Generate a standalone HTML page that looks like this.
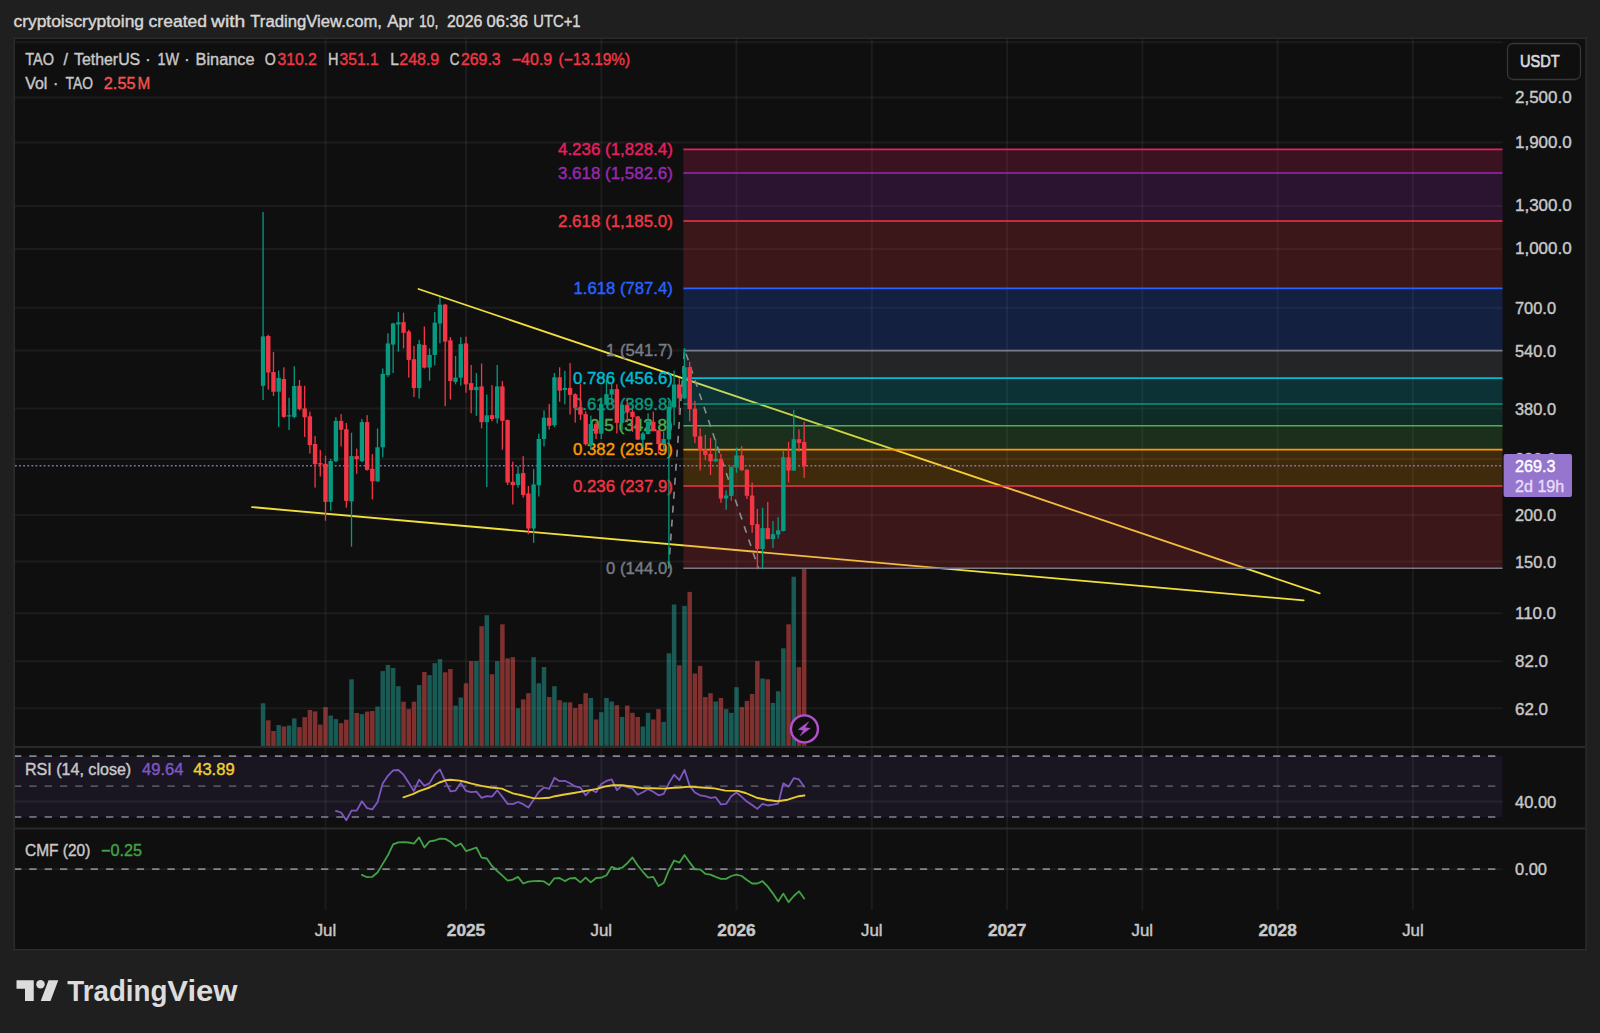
<!DOCTYPE html>
<html lang="en"><head><meta charset="utf-8"><title>TAO / TetherUS chart</title>
<style>html,body{margin:0;padding:0;background:#1f1f1f;overflow:hidden}body{width:1600px;height:1033px;position:relative}svg text{white-space:pre}</style></head>
<body>
<svg width="1600" height="1033" viewBox="0 0 1600 1033" font-family='"Liberation Sans", sans-serif' style="position:absolute;left:0;top:0;display:block">
<rect width="1600" height="1033" fill="#1f1f1f"/>
<rect x="13.5" y="37.5" width="1573.3" height="913" fill="#2b2b2b"/>
<rect x="15" y="39" width="1570.3" height="910" fill="#0f0f0f"/>
<text y="27.1" font-size="16" font-weight="normal" stroke-width="0.4"><tspan x="13.5" textLength="130.5" lengthAdjust="spacingAndGlyphs" fill="#d6d6d6" stroke="#d6d6d6">cryptoiscryptoing</tspan> <tspan x="148.6" textLength="58.4" lengthAdjust="spacingAndGlyphs" fill="#d6d6d6" stroke="#d6d6d6">created</tspan> <tspan x="211.0" textLength="34.3" lengthAdjust="spacingAndGlyphs" fill="#d6d6d6" stroke="#d6d6d6">with</tspan> <tspan x="250.3" textLength="131.7" lengthAdjust="spacingAndGlyphs" fill="#d6d6d6" stroke="#d6d6d6">TradingView.com,</tspan> <tspan x="387.2" textLength="26.4" lengthAdjust="spacingAndGlyphs" fill="#d6d6d6" stroke="#d6d6d6">Apr</tspan> <tspan x="419.0" textLength="19.5" lengthAdjust="spacingAndGlyphs" fill="#d6d6d6" stroke="#d6d6d6">10,</tspan> <tspan x="447.0" textLength="35.3" lengthAdjust="spacingAndGlyphs" fill="#d6d6d6" stroke="#d6d6d6">2026</tspan> <tspan x="486.5" textLength="41.5" lengthAdjust="spacingAndGlyphs" fill="#d6d6d6" stroke="#d6d6d6">06:36</tspan> <tspan x="533.3" textLength="47.3" lengthAdjust="spacingAndGlyphs" fill="#d6d6d6" stroke="#d6d6d6">UTC+1</tspan></text>
<rect x="15" y="756.3" width="1487.5" height="60.7" fill="#7e57c2" fill-opacity="0.1"/>
<g stroke="rgba(255,255,255,0.055)" stroke-width="2">
<line x1="325.5" y1="39" x2="325.5" y2="910"/>
<line x1="466.0" y1="39" x2="466.0" y2="910"/>
<line x1="601.3" y1="39" x2="601.3" y2="910"/>
<line x1="736.5" y1="39" x2="736.5" y2="910"/>
<line x1="871.8" y1="39" x2="871.8" y2="910"/>
<line x1="1007.1" y1="39" x2="1007.1" y2="910"/>
<line x1="1142.4" y1="39" x2="1142.4" y2="910"/>
<line x1="1277.6" y1="39" x2="1277.6" y2="910"/>
<line x1="1412.9" y1="39" x2="1412.9" y2="910"/>
<line x1="15" y1="42.2" x2="1502.5" y2="42.2"/>
<line x1="15" y1="97.4" x2="1502.5" y2="97.4"/>
<line x1="15" y1="142.6" x2="1502.5" y2="142.6"/>
<line x1="15" y1="206.0" x2="1502.5" y2="206.0"/>
<line x1="15" y1="249.0" x2="1502.5" y2="249.0"/>
<line x1="15" y1="307.7" x2="1502.5" y2="307.7"/>
<line x1="15" y1="350.6" x2="1502.5" y2="350.6"/>
<line x1="15" y1="408.6" x2="1502.5" y2="408.6"/>
<line x1="15" y1="458.9" x2="1502.5" y2="458.9"/>
<line x1="15" y1="515.1" x2="1502.5" y2="515.1"/>
<line x1="15" y1="561.5" x2="1502.5" y2="561.5"/>
<line x1="15" y1="613.2" x2="1502.5" y2="613.2"/>
<line x1="15" y1="661.2" x2="1502.5" y2="661.2"/>
<line x1="15" y1="708.2" x2="1502.5" y2="708.2"/>
<line x1="15" y1="801.6" x2="1502.5" y2="801.6"/>
<line x1="15" y1="869.2" x2="1502.5" y2="869.2"/>
</g>
<g stroke="#2a2a2a" stroke-width="2">
<line x1="15" y1="747" x2="1585.3" y2="747"/>
<line x1="15" y1="828.5" x2="1585.3" y2="828.5"/>
</g>
<g>
<rect x="260.81" y="703.3" width="4.5" height="42.6" fill="rgba(38,166,154,0.5)"/>
<rect x="266.01" y="720.3" width="4.5" height="25.6" fill="rgba(239,83,80,0.5)"/>
<rect x="271.22" y="731.0" width="4.5" height="14.9" fill="rgba(239,83,80,0.5)"/>
<rect x="276.42" y="725.0" width="4.5" height="20.9" fill="rgba(38,166,154,0.5)"/>
<rect x="281.62" y="726.5" width="4.5" height="19.4" fill="rgba(239,83,80,0.5)"/>
<rect x="286.82" y="725.5" width="4.5" height="20.3" fill="rgba(38,166,154,0.5)"/>
<rect x="292.03" y="718.4" width="4.5" height="27.5" fill="rgba(38,166,154,0.5)"/>
<rect x="297.23" y="727.1" width="4.5" height="18.8" fill="rgba(239,83,80,0.5)"/>
<rect x="302.43" y="717.2" width="4.5" height="28.7" fill="rgba(239,83,80,0.5)"/>
<rect x="307.64" y="710.0" width="4.5" height="35.8" fill="rgba(239,83,80,0.5)"/>
<rect x="312.84" y="711.4" width="4.5" height="34.5" fill="rgba(239,83,80,0.5)"/>
<rect x="318.04" y="724.6" width="4.5" height="21.3" fill="rgba(239,83,80,0.5)"/>
<rect x="323.25" y="707.1" width="4.5" height="38.7" fill="rgba(239,83,80,0.5)"/>
<rect x="328.45" y="715.5" width="4.5" height="30.4" fill="rgba(38,166,154,0.5)"/>
<rect x="333.65" y="719.1" width="4.5" height="26.7" fill="rgba(38,166,154,0.5)"/>
<rect x="338.86" y="723.2" width="4.5" height="22.7" fill="rgba(239,83,80,0.5)"/>
<rect x="344.06" y="719.7" width="4.5" height="26.1" fill="rgba(239,83,80,0.5)"/>
<rect x="349.26" y="679.3" width="4.5" height="66.6" fill="rgba(38,166,154,0.5)"/>
<rect x="354.46" y="713.0" width="4.5" height="32.9" fill="rgba(239,83,80,0.5)"/>
<rect x="359.67" y="714.1" width="4.5" height="31.8" fill="rgba(38,166,154,0.5)"/>
<rect x="364.87" y="711.6" width="4.5" height="34.3" fill="rgba(239,83,80,0.5)"/>
<rect x="370.07" y="711.0" width="4.5" height="34.8" fill="rgba(239,83,80,0.5)"/>
<rect x="375.28" y="706.6" width="4.5" height="39.3" fill="rgba(38,166,154,0.5)"/>
<rect x="380.48" y="671.1" width="4.5" height="74.7" fill="rgba(38,166,154,0.5)"/>
<rect x="385.68" y="664.9" width="4.5" height="80.9" fill="rgba(38,166,154,0.5)"/>
<rect x="390.88" y="668.0" width="4.5" height="77.8" fill="rgba(38,166,154,0.5)"/>
<rect x="396.09" y="686.2" width="4.5" height="59.6" fill="rgba(38,166,154,0.5)"/>
<rect x="401.29" y="701.7" width="4.5" height="44.1" fill="rgba(239,83,80,0.5)"/>
<rect x="406.49" y="709.1" width="4.5" height="36.8" fill="rgba(239,83,80,0.5)"/>
<rect x="411.70" y="701.7" width="4.5" height="44.1" fill="rgba(239,83,80,0.5)"/>
<rect x="416.90" y="685.1" width="4.5" height="60.8" fill="rgba(38,166,154,0.5)"/>
<rect x="422.10" y="671.9" width="4.5" height="74.0" fill="rgba(239,83,80,0.5)"/>
<rect x="427.31" y="675.2" width="4.5" height="70.7" fill="rgba(38,166,154,0.5)"/>
<rect x="432.51" y="663.2" width="4.5" height="82.7" fill="rgba(38,166,154,0.5)"/>
<rect x="437.71" y="659.1" width="4.5" height="86.7" fill="rgba(38,166,154,0.5)"/>
<rect x="442.92" y="672.3" width="4.5" height="73.6" fill="rgba(239,83,80,0.5)"/>
<rect x="448.12" y="669.0" width="4.5" height="76.9" fill="rgba(239,83,80,0.5)"/>
<rect x="453.32" y="705.6" width="4.5" height="40.3" fill="rgba(38,166,154,0.5)"/>
<rect x="458.52" y="697.5" width="4.5" height="48.4" fill="rgba(38,166,154,0.5)"/>
<rect x="463.73" y="683.3" width="4.5" height="62.5" fill="rgba(239,83,80,0.5)"/>
<rect x="468.93" y="661.1" width="4.5" height="84.8" fill="rgba(239,83,80,0.5)"/>
<rect x="474.13" y="661.1" width="4.5" height="84.8" fill="rgba(38,166,154,0.5)"/>
<rect x="479.34" y="626.2" width="4.5" height="119.7" fill="rgba(239,83,80,0.5)"/>
<rect x="484.54" y="615.2" width="4.5" height="130.7" fill="rgba(38,166,154,0.5)"/>
<rect x="489.74" y="674.2" width="4.5" height="71.6" fill="rgba(239,83,80,0.5)"/>
<rect x="494.95" y="661.1" width="4.5" height="84.8" fill="rgba(38,166,154,0.5)"/>
<rect x="500.15" y="624.3" width="4.5" height="121.6" fill="rgba(239,83,80,0.5)"/>
<rect x="505.35" y="658.4" width="4.5" height="87.5" fill="rgba(239,83,80,0.5)"/>
<rect x="510.55" y="657.2" width="4.5" height="88.7" fill="rgba(239,83,80,0.5)"/>
<rect x="515.76" y="708.3" width="4.5" height="37.6" fill="rgba(38,166,154,0.5)"/>
<rect x="520.96" y="699.4" width="4.5" height="46.5" fill="rgba(239,83,80,0.5)"/>
<rect x="526.16" y="693.2" width="4.5" height="52.7" fill="rgba(239,83,80,0.5)"/>
<rect x="531.37" y="657.2" width="4.5" height="88.7" fill="rgba(38,166,154,0.5)"/>
<rect x="536.57" y="683.3" width="4.5" height="62.5" fill="rgba(38,166,154,0.5)"/>
<rect x="541.77" y="667.1" width="4.5" height="78.8" fill="rgba(38,166,154,0.5)"/>
<rect x="546.98" y="697.1" width="4.5" height="48.8" fill="rgba(239,83,80,0.5)"/>
<rect x="552.18" y="686.2" width="4.5" height="59.6" fill="rgba(38,166,154,0.5)"/>
<rect x="557.38" y="700.2" width="4.5" height="45.7" fill="rgba(239,83,80,0.5)"/>
<rect x="562.58" y="702.3" width="4.5" height="43.6" fill="rgba(38,166,154,0.5)"/>
<rect x="567.79" y="702.3" width="4.5" height="43.6" fill="rgba(239,83,80,0.5)"/>
<rect x="572.99" y="708.1" width="4.5" height="37.8" fill="rgba(239,83,80,0.5)"/>
<rect x="578.19" y="704.0" width="4.5" height="41.8" fill="rgba(239,83,80,0.5)"/>
<rect x="583.40" y="693.2" width="4.5" height="52.7" fill="rgba(239,83,80,0.5)"/>
<rect x="588.60" y="698.0" width="4.5" height="47.8" fill="rgba(38,166,154,0.5)"/>
<rect x="593.80" y="719.5" width="4.5" height="26.3" fill="rgba(239,83,80,0.5)"/>
<rect x="599.00" y="712.2" width="4.5" height="33.7" fill="rgba(38,166,154,0.5)"/>
<rect x="604.21" y="698.0" width="4.5" height="47.8" fill="rgba(38,166,154,0.5)"/>
<rect x="609.41" y="701.5" width="4.5" height="44.3" fill="rgba(38,166,154,0.5)"/>
<rect x="614.61" y="705.2" width="4.5" height="40.7" fill="rgba(239,83,80,0.5)"/>
<rect x="619.82" y="717.0" width="4.5" height="28.8" fill="rgba(38,166,154,0.5)"/>
<rect x="625.02" y="705.6" width="4.5" height="40.3" fill="rgba(239,83,80,0.5)"/>
<rect x="630.22" y="712.8" width="4.5" height="33.1" fill="rgba(239,83,80,0.5)"/>
<rect x="635.43" y="717.0" width="4.5" height="28.8" fill="rgba(239,83,80,0.5)"/>
<rect x="640.63" y="726.5" width="4.5" height="19.4" fill="rgba(38,166,154,0.5)"/>
<rect x="645.83" y="712.8" width="4.5" height="33.1" fill="rgba(38,166,154,0.5)"/>
<rect x="651.04" y="719.5" width="4.5" height="26.3" fill="rgba(239,83,80,0.5)"/>
<rect x="656.24" y="709.1" width="4.5" height="36.8" fill="rgba(239,83,80,0.5)"/>
<rect x="661.44" y="721.9" width="4.5" height="24.0" fill="rgba(38,166,154,0.5)"/>
<rect x="666.64" y="653.3" width="4.5" height="92.5" fill="rgba(38,166,154,0.5)"/>
<rect x="671.85" y="604.5" width="4.5" height="141.3" fill="rgba(38,166,154,0.5)"/>
<rect x="677.05" y="665.3" width="4.5" height="80.5" fill="rgba(239,83,80,0.5)"/>
<rect x="682.25" y="605.9" width="4.5" height="140.0" fill="rgba(38,166,154,0.5)"/>
<rect x="687.46" y="591.9" width="4.5" height="153.9" fill="rgba(239,83,80,0.5)"/>
<rect x="692.66" y="673.5" width="4.5" height="72.4" fill="rgba(239,83,80,0.5)"/>
<rect x="697.86" y="665.9" width="4.5" height="80.0" fill="rgba(239,83,80,0.5)"/>
<rect x="703.07" y="697.1" width="4.5" height="48.8" fill="rgba(239,83,80,0.5)"/>
<rect x="708.27" y="693.2" width="4.5" height="52.7" fill="rgba(239,83,80,0.5)"/>
<rect x="713.47" y="701.5" width="4.5" height="44.3" fill="rgba(38,166,154,0.5)"/>
<rect x="718.67" y="698.0" width="4.5" height="47.8" fill="rgba(239,83,80,0.5)"/>
<rect x="723.88" y="709.1" width="4.5" height="36.8" fill="rgba(38,166,154,0.5)"/>
<rect x="729.08" y="712.8" width="4.5" height="33.1" fill="rgba(38,166,154,0.5)"/>
<rect x="734.28" y="687.2" width="4.5" height="58.7" fill="rgba(38,166,154,0.5)"/>
<rect x="739.49" y="707.1" width="4.5" height="38.7" fill="rgba(239,83,80,0.5)"/>
<rect x="744.69" y="700.9" width="4.5" height="44.9" fill="rgba(239,83,80,0.5)"/>
<rect x="749.89" y="694.0" width="4.5" height="51.9" fill="rgba(239,83,80,0.5)"/>
<rect x="755.10" y="661.1" width="4.5" height="84.8" fill="rgba(239,83,80,0.5)"/>
<rect x="760.30" y="678.5" width="4.5" height="67.4" fill="rgba(38,166,154,0.5)"/>
<rect x="765.50" y="679.3" width="4.5" height="66.6" fill="rgba(239,83,80,0.5)"/>
<rect x="770.70" y="702.9" width="4.5" height="43.0" fill="rgba(38,166,154,0.5)"/>
<rect x="775.91" y="691.3" width="4.5" height="54.6" fill="rgba(38,166,154,0.5)"/>
<rect x="781.11" y="648.3" width="4.5" height="97.6" fill="rgba(38,166,154,0.5)"/>
<rect x="786.31" y="624.3" width="4.5" height="121.6" fill="rgba(239,83,80,0.5)"/>
<rect x="791.52" y="576.7" width="4.5" height="169.2" fill="rgba(38,166,154,0.5)"/>
<rect x="796.72" y="667.1" width="4.5" height="78.8" fill="rgba(239,83,80,0.5)"/>
<rect x="801.92" y="568.7" width="4.5" height="177.2" fill="rgba(239,83,80,0.5)"/>
</g>
<g stroke="#f2df3c" stroke-width="1.8" stroke-linecap="round">
<line x1="418.5" y1="289" x2="1319.7" y2="593.4"/>
<line x1="252" y1="507.1" x2="1303.7" y2="600.4"/>
</g>
<rect x="683.4" y="486.0" width="819.1" height="82.2" fill="#f23645" fill-opacity="0.2"/>
<rect x="683.4" y="449.6" width="819.1" height="36.4" fill="#ff9800" fill-opacity="0.2"/>
<rect x="683.4" y="425.7" width="819.1" height="23.9" fill="#4caf50" fill-opacity="0.2"/>
<rect x="683.4" y="404.0" width="819.1" height="21.7" fill="#089981" fill-opacity="0.2"/>
<rect x="683.4" y="378.1" width="819.1" height="25.9" fill="#00bcd4" fill-opacity="0.2"/>
<rect x="683.4" y="350.6" width="819.1" height="27.5" fill="#787b86" fill-opacity="0.2"/>
<rect x="683.4" y="288.4" width="819.1" height="62.2" fill="#2962ff" fill-opacity="0.2"/>
<rect x="683.4" y="221.0" width="819.1" height="67.4" fill="#f23645" fill-opacity="0.2"/>
<rect x="683.4" y="173.0" width="819.1" height="48.0" fill="#9c27b0" fill-opacity="0.2"/>
<rect x="683.4" y="149.4" width="819.1" height="23.6" fill="#e91e63" fill-opacity="0.2"/>
<line x1="683.4" y1="568.2" x2="1502.5" y2="568.2" stroke="#787b86" stroke-width="1.6"/>
<line x1="683.4" y1="486.0" x2="1502.5" y2="486.0" stroke="#f23645" stroke-width="1.6"/>
<line x1="683.4" y1="449.6" x2="1502.5" y2="449.6" stroke="#ff9800" stroke-width="1.6"/>
<line x1="683.4" y1="425.7" x2="1502.5" y2="425.7" stroke="#4caf50" stroke-width="1.6"/>
<line x1="683.4" y1="404.0" x2="1502.5" y2="404.0" stroke="#089981" stroke-width="1.6"/>
<line x1="683.4" y1="378.1" x2="1502.5" y2="378.1" stroke="#00bcd4" stroke-width="1.6"/>
<line x1="683.4" y1="350.6" x2="1502.5" y2="350.6" stroke="#787b86" stroke-width="1.6"/>
<line x1="683.4" y1="288.4" x2="1502.5" y2="288.4" stroke="#2962ff" stroke-width="1.6"/>
<line x1="683.4" y1="221.0" x2="1502.5" y2="221.0" stroke="#f23645" stroke-width="1.6"/>
<line x1="683.4" y1="173.0" x2="1502.5" y2="173.0" stroke="#9c27b0" stroke-width="1.6"/>
<line x1="683.4" y1="149.4" x2="1502.5" y2="149.4" stroke="#e91e63" stroke-width="1.6"/>
<polyline points="668.6,568.5 684.6,349.5 758.5,568.5" fill="none" stroke="#8a8d96" stroke-width="1.6" stroke-dasharray="7 7"/>
<text x="606.0" y="573.9" fill="#787b86" stroke="#787b86" stroke-width="0.4" font-size="16" font-weight="normal" textLength="66.8" lengthAdjust="spacingAndGlyphs">0 (144.0)</text>
<text x="573.0" y="491.7" fill="#f23645" stroke="#f23645" stroke-width="0.4" font-size="16" font-weight="normal" textLength="99.8" lengthAdjust="spacingAndGlyphs">0.236 (237.9)</text>
<text x="573.0" y="455.3" fill="#ff9800" stroke="#ff9800" stroke-width="0.4" font-size="16" font-weight="normal" textLength="99.8" lengthAdjust="spacingAndGlyphs">0.382 (295.9)</text>
<text x="590.0" y="431.4" fill="#4caf50" stroke="#4caf50" stroke-width="0.4" font-size="16" font-weight="normal" textLength="82.8" lengthAdjust="spacingAndGlyphs">0.5 (342.8)</text>
<text x="573.0" y="409.7" fill="#089981" stroke="#089981" stroke-width="0.4" font-size="16" font-weight="normal" textLength="99.8" lengthAdjust="spacingAndGlyphs">0.618 (389.8)</text>
<text x="573.0" y="383.8" fill="#00bcd4" stroke="#00bcd4" stroke-width="0.4" font-size="16" font-weight="normal" textLength="99.8" lengthAdjust="spacingAndGlyphs">0.786 (456.6)</text>
<text x="606.0" y="356.3" fill="#787b86" stroke="#787b86" stroke-width="0.4" font-size="16" font-weight="normal" textLength="66.8" lengthAdjust="spacingAndGlyphs">1 (541.7)</text>
<text x="573.5" y="294.1" fill="#2962ff" stroke="#2962ff" stroke-width="0.4" font-size="16" font-weight="normal" textLength="99.3" lengthAdjust="spacingAndGlyphs">1.618 (787.4)</text>
<text x="558.0" y="226.7" fill="#f23645" stroke="#f23645" stroke-width="0.4" font-size="16" font-weight="normal" textLength="114.8" lengthAdjust="spacingAndGlyphs">2.618 (1,185.0)</text>
<text x="558.0" y="178.7" fill="#9c27b0" stroke="#9c27b0" stroke-width="0.4" font-size="16" font-weight="normal" textLength="114.8" lengthAdjust="spacingAndGlyphs">3.618 (1,582.6)</text>
<text x="558.0" y="155.1" fill="#e91e63" stroke="#e91e63" stroke-width="0.4" font-size="16" font-weight="normal" textLength="114.8" lengthAdjust="spacingAndGlyphs">4.236 (1,828.4)</text>
<line x1="15" y1="465.7" x2="1502.5" y2="465.7" stroke="#9575cd" stroke-opacity="0.9" stroke-width="1.6" stroke-dasharray="1.8 2.3"/>
<g>
<rect x="262.41" y="212.0" width="1.3" height="187.9" fill="#089981"/>
<rect x="260.86" y="336.4" width="4.4" height="49.4" fill="#089981"/>
<rect x="267.61" y="334.7" width="1.3" height="55.0" fill="#f23645"/>
<rect x="266.06" y="336.0" width="4.4" height="36.6" fill="#f23645"/>
<rect x="272.82" y="351.9" width="1.3" height="44.1" fill="#f23645"/>
<rect x="271.27" y="372.0" width="4.4" height="19.8" fill="#f23645"/>
<rect x="278.02" y="370.5" width="1.3" height="56.4" fill="#089981"/>
<rect x="276.47" y="377.9" width="4.4" height="13.8" fill="#089981"/>
<rect x="283.22" y="367.3" width="1.3" height="50.5" fill="#f23645"/>
<rect x="281.67" y="379.0" width="4.4" height="37.9" fill="#f23645"/>
<rect x="288.43" y="397.7" width="1.3" height="32.4" fill="#089981"/>
<rect x="286.88" y="415.2" width="4.4" height="1.3" fill="#089981"/>
<rect x="293.63" y="366.2" width="1.3" height="52.2" fill="#089981"/>
<rect x="292.08" y="386.0" width="4.4" height="30.9" fill="#089981"/>
<rect x="298.83" y="380.1" width="1.3" height="30.2" fill="#f23645"/>
<rect x="297.28" y="385.8" width="4.4" height="23.4" fill="#f23645"/>
<rect x="304.03" y="385.8" width="1.3" height="51.1" fill="#f23645"/>
<rect x="302.48" y="408.4" width="4.4" height="8.9" fill="#f23645"/>
<rect x="309.24" y="411.6" width="1.3" height="42.0" fill="#f23645"/>
<rect x="307.69" y="416.3" width="4.4" height="28.8" fill="#f23645"/>
<rect x="314.44" y="436.1" width="1.3" height="51.5" fill="#f23645"/>
<rect x="312.89" y="444.0" width="4.4" height="20.2" fill="#f23645"/>
<rect x="319.64" y="449.9" width="1.3" height="26.6" fill="#f23645"/>
<rect x="318.09" y="463.1" width="4.4" height="1.5" fill="#f23645"/>
<rect x="324.85" y="455.7" width="1.3" height="65.0" fill="#f23645"/>
<rect x="323.30" y="463.8" width="4.4" height="38.1" fill="#f23645"/>
<rect x="330.05" y="458.9" width="1.3" height="51.8" fill="#089981"/>
<rect x="328.50" y="461.0" width="4.4" height="40.9" fill="#089981"/>
<rect x="335.25" y="417.1" width="1.3" height="45.1" fill="#089981"/>
<rect x="333.70" y="420.9" width="4.4" height="40.3" fill="#089981"/>
<rect x="340.46" y="414.1" width="1.3" height="32.5" fill="#f23645"/>
<rect x="338.91" y="420.9" width="4.4" height="8.8" fill="#f23645"/>
<rect x="345.66" y="422.9" width="1.3" height="84.8" fill="#f23645"/>
<rect x="344.11" y="429.2" width="4.4" height="71.7" fill="#f23645"/>
<rect x="350.86" y="432.7" width="1.3" height="114.0" fill="#089981"/>
<rect x="349.31" y="456.1" width="4.4" height="45.3" fill="#089981"/>
<rect x="356.06" y="448.6" width="1.3" height="25.2" fill="#f23645"/>
<rect x="354.51" y="456.1" width="4.4" height="3.0" fill="#f23645"/>
<rect x="361.27" y="418.9" width="1.3" height="43.5" fill="#089981"/>
<rect x="359.72" y="422.1" width="4.4" height="39.0" fill="#089981"/>
<rect x="366.47" y="415.1" width="1.3" height="55.6" fill="#f23645"/>
<rect x="364.92" y="422.1" width="4.4" height="47.8" fill="#f23645"/>
<rect x="371.67" y="454.1" width="1.3" height="45.3" fill="#f23645"/>
<rect x="370.12" y="468.7" width="4.4" height="12.6" fill="#f23645"/>
<rect x="376.88" y="428.4" width="1.3" height="53.4" fill="#089981"/>
<rect x="375.33" y="447.3" width="4.4" height="34.0" fill="#089981"/>
<rect x="382.08" y="368.5" width="1.3" height="88.8" fill="#089981"/>
<rect x="380.53" y="373.8" width="4.4" height="73.5" fill="#089981"/>
<rect x="387.28" y="333.3" width="1.3" height="43.5" fill="#089981"/>
<rect x="385.73" y="343.4" width="4.4" height="31.7" fill="#089981"/>
<rect x="392.49" y="322.7" width="1.3" height="50.3" fill="#089981"/>
<rect x="390.94" y="323.5" width="4.4" height="21.1" fill="#089981"/>
<rect x="397.69" y="312.1" width="1.3" height="39.5" fill="#089981"/>
<rect x="396.14" y="322.2" width="4.4" height="2.3" fill="#089981"/>
<rect x="402.89" y="312.7" width="1.3" height="35.7" fill="#f23645"/>
<rect x="401.34" y="322.2" width="4.4" height="10.6" fill="#f23645"/>
<rect x="408.09" y="329.8" width="1.3" height="47.8" fill="#f23645"/>
<rect x="406.54" y="331.5" width="4.4" height="28.4" fill="#f23645"/>
<rect x="413.30" y="345.9" width="1.3" height="51.1" fill="#f23645"/>
<rect x="411.75" y="359.2" width="4.4" height="28.9" fill="#f23645"/>
<rect x="418.50" y="339.8" width="1.3" height="58.9" fill="#089981"/>
<rect x="416.95" y="344.1" width="4.4" height="44.0" fill="#089981"/>
<rect x="423.70" y="326.5" width="1.3" height="42.0" fill="#f23645"/>
<rect x="422.15" y="344.9" width="4.4" height="22.7" fill="#f23645"/>
<rect x="428.91" y="348.4" width="1.3" height="32.2" fill="#089981"/>
<rect x="427.36" y="354.9" width="4.4" height="12.6" fill="#089981"/>
<rect x="434.11" y="312.1" width="1.3" height="53.4" fill="#089981"/>
<rect x="432.56" y="322.7" width="4.4" height="32.2" fill="#089981"/>
<rect x="439.31" y="297.0" width="1.3" height="46.3" fill="#089981"/>
<rect x="437.76" y="304.6" width="4.4" height="18.9" fill="#089981"/>
<rect x="444.52" y="303.8" width="1.3" height="102.4" fill="#f23645"/>
<rect x="442.97" y="304.6" width="4.4" height="37.0" fill="#f23645"/>
<rect x="449.72" y="337.1" width="1.3" height="62.4" fill="#f23645"/>
<rect x="448.17" y="340.3" width="4.4" height="40.8" fill="#f23645"/>
<rect x="454.92" y="355.9" width="1.3" height="28.4" fill="#089981"/>
<rect x="453.37" y="377.6" width="4.4" height="4.3" fill="#089981"/>
<rect x="460.12" y="337.1" width="1.3" height="48.6" fill="#089981"/>
<rect x="458.57" y="344.1" width="4.4" height="33.5" fill="#089981"/>
<rect x="465.33" y="336.6" width="1.3" height="56.1" fill="#f23645"/>
<rect x="463.78" y="343.4" width="4.4" height="41.0" fill="#f23645"/>
<rect x="470.53" y="365.0" width="1.3" height="48.3" fill="#f23645"/>
<rect x="468.98" y="383.1" width="4.4" height="7.0" fill="#f23645"/>
<rect x="475.73" y="373.1" width="1.3" height="42.8" fill="#089981"/>
<rect x="474.18" y="386.9" width="4.4" height="3.3" fill="#089981"/>
<rect x="480.94" y="363.5" width="1.3" height="64.9" fill="#f23645"/>
<rect x="479.39" y="386.4" width="4.4" height="35.7" fill="#f23645"/>
<rect x="486.14" y="394.5" width="1.3" height="92.6" fill="#089981"/>
<rect x="484.59" y="415.3" width="4.4" height="6.8" fill="#089981"/>
<rect x="491.34" y="385.1" width="1.3" height="36.2" fill="#f23645"/>
<rect x="489.79" y="415.1" width="4.4" height="4.0" fill="#f23645"/>
<rect x="496.55" y="365.0" width="1.3" height="58.4" fill="#089981"/>
<rect x="495.00" y="386.4" width="4.4" height="32.0" fill="#089981"/>
<rect x="501.75" y="381.1" width="1.3" height="68.7" fill="#f23645"/>
<rect x="500.20" y="386.4" width="4.4" height="34.5" fill="#f23645"/>
<rect x="506.95" y="419.6" width="1.3" height="65.4" fill="#f23645"/>
<rect x="505.40" y="420.1" width="4.4" height="62.4" fill="#f23645"/>
<rect x="512.15" y="461.7" width="1.3" height="42.8" fill="#f23645"/>
<rect x="510.60" y="481.8" width="4.4" height="3.3" fill="#f23645"/>
<rect x="517.36" y="466.2" width="1.3" height="21.4" fill="#089981"/>
<rect x="515.81" y="473.7" width="4.4" height="11.3" fill="#089981"/>
<rect x="522.56" y="456.1" width="1.3" height="41.5" fill="#f23645"/>
<rect x="521.01" y="473.1" width="4.4" height="21.9" fill="#f23645"/>
<rect x="527.76" y="485.9" width="1.3" height="48.3" fill="#f23645"/>
<rect x="526.21" y="493.4" width="4.4" height="35.1" fill="#f23645"/>
<rect x="532.97" y="468.9" width="1.3" height="73.9" fill="#089981"/>
<rect x="531.42" y="484.4" width="4.4" height="44.1" fill="#089981"/>
<rect x="538.17" y="433.7" width="1.3" height="62.8" fill="#089981"/>
<rect x="536.62" y="439.0" width="4.4" height="46.2" fill="#089981"/>
<rect x="543.37" y="410.3" width="1.3" height="36.2" fill="#089981"/>
<rect x="541.82" y="417.7" width="4.4" height="21.3" fill="#089981"/>
<rect x="548.58" y="403.9" width="1.3" height="25.6" fill="#f23645"/>
<rect x="547.02" y="417.7" width="4.4" height="8.1" fill="#f23645"/>
<rect x="553.78" y="373.0" width="1.3" height="53.9" fill="#089981"/>
<rect x="552.23" y="377.3" width="4.4" height="47.9" fill="#089981"/>
<rect x="558.98" y="367.3" width="1.3" height="34.5" fill="#f23645"/>
<rect x="557.43" y="377.3" width="4.4" height="13.4" fill="#f23645"/>
<rect x="564.18" y="370.9" width="1.3" height="33.4" fill="#089981"/>
<rect x="562.63" y="387.9" width="4.4" height="2.1" fill="#089981"/>
<rect x="569.39" y="363.0" width="1.3" height="51.5" fill="#f23645"/>
<rect x="567.84" y="387.9" width="4.4" height="7.0" fill="#f23645"/>
<rect x="574.59" y="393.2" width="1.3" height="29.4" fill="#f23645"/>
<rect x="573.04" y="394.3" width="4.4" height="13.4" fill="#f23645"/>
<rect x="579.79" y="383.7" width="1.3" height="36.2" fill="#f23645"/>
<rect x="578.24" y="407.1" width="4.4" height="7.5" fill="#f23645"/>
<rect x="585.00" y="411.4" width="1.3" height="34.1" fill="#f23645"/>
<rect x="583.45" y="414.1" width="4.4" height="30.2" fill="#f23645"/>
<rect x="590.20" y="415.6" width="1.3" height="34.1" fill="#089981"/>
<rect x="588.65" y="424.1" width="4.4" height="21.3" fill="#089981"/>
<rect x="595.40" y="422.0" width="1.3" height="17.0" fill="#f23645"/>
<rect x="593.85" y="424.1" width="4.4" height="9.6" fill="#f23645"/>
<rect x="600.61" y="397.9" width="1.3" height="41.1" fill="#089981"/>
<rect x="599.05" y="403.9" width="4.4" height="29.8" fill="#089981"/>
<rect x="605.81" y="380.4" width="1.3" height="24.8" fill="#089981"/>
<rect x="604.26" y="394.1" width="4.4" height="10.6" fill="#089981"/>
<rect x="611.01" y="381.8" width="1.3" height="22.9" fill="#089981"/>
<rect x="609.46" y="389.3" width="4.4" height="5.3" fill="#089981"/>
<rect x="616.21" y="384.3" width="1.3" height="49.2" fill="#f23645"/>
<rect x="614.66" y="389.0" width="4.4" height="33.9" fill="#f23645"/>
<rect x="621.42" y="404.2" width="1.3" height="25.6" fill="#089981"/>
<rect x="619.87" y="404.7" width="4.4" height="18.1" fill="#089981"/>
<rect x="626.62" y="397.8" width="1.3" height="24.5" fill="#f23645"/>
<rect x="625.07" y="404.9" width="4.4" height="7.5" fill="#f23645"/>
<rect x="631.82" y="409.5" width="1.3" height="22.4" fill="#f23645"/>
<rect x="630.27" y="411.7" width="4.4" height="5.3" fill="#f23645"/>
<rect x="637.03" y="415.9" width="1.3" height="24.2" fill="#f23645"/>
<rect x="635.48" y="416.4" width="4.4" height="23.2" fill="#f23645"/>
<rect x="642.23" y="431.9" width="1.3" height="14.9" fill="#089981"/>
<rect x="640.68" y="433.5" width="4.4" height="6.2" fill="#089981"/>
<rect x="647.43" y="413.2" width="1.3" height="21.3" fill="#089981"/>
<rect x="645.88" y="421.8" width="4.4" height="12.2" fill="#089981"/>
<rect x="652.64" y="411.7" width="1.3" height="19.7" fill="#f23645"/>
<rect x="651.09" y="421.8" width="4.4" height="9.1" fill="#f23645"/>
<rect x="657.84" y="429.8" width="1.3" height="24.0" fill="#f23645"/>
<rect x="656.29" y="430.3" width="4.4" height="13.8" fill="#f23645"/>
<rect x="663.04" y="431.4" width="1.3" height="19.2" fill="#089981"/>
<rect x="661.49" y="439.0" width="4.4" height="5.1" fill="#089981"/>
<rect x="668.24" y="401.0" width="1.3" height="167.0" fill="#089981"/>
<rect x="666.69" y="406.9" width="4.4" height="32.5" fill="#089981"/>
<rect x="673.45" y="370.6" width="1.3" height="54.8" fill="#089981"/>
<rect x="671.90" y="384.5" width="4.4" height="22.9" fill="#089981"/>
<rect x="678.65" y="378.1" width="1.3" height="36.7" fill="#f23645"/>
<rect x="677.10" y="384.5" width="4.4" height="13.8" fill="#f23645"/>
<rect x="683.85" y="348.0" width="1.3" height="50.8" fill="#089981"/>
<rect x="682.30" y="367.2" width="4.4" height="31.2" fill="#089981"/>
<rect x="689.06" y="361.8" width="1.3" height="59.6" fill="#f23645"/>
<rect x="687.51" y="367.2" width="4.4" height="41.9" fill="#f23645"/>
<rect x="694.26" y="400.7" width="1.3" height="42.5" fill="#f23645"/>
<rect x="692.71" y="408.7" width="4.4" height="27.9" fill="#f23645"/>
<rect x="699.46" y="428.2" width="1.3" height="42.3" fill="#f23645"/>
<rect x="697.91" y="436.2" width="4.4" height="13.9" fill="#f23645"/>
<rect x="704.67" y="434.8" width="1.3" height="25.3" fill="#f23645"/>
<rect x="703.12" y="449.3" width="4.4" height="5.6" fill="#f23645"/>
<rect x="709.87" y="438.0" width="1.3" height="36.9" fill="#f23645"/>
<rect x="708.32" y="454.0" width="4.4" height="7.3" fill="#f23645"/>
<rect x="715.07" y="439.2" width="1.3" height="22.7" fill="#089981"/>
<rect x="713.52" y="458.9" width="4.4" height="2.4" fill="#089981"/>
<rect x="720.27" y="454.0" width="1.3" height="48.8" fill="#f23645"/>
<rect x="718.72" y="458.9" width="4.4" height="39.6" fill="#f23645"/>
<rect x="725.48" y="490.3" width="1.3" height="19.5" fill="#089981"/>
<rect x="723.93" y="495.5" width="4.4" height="3.0" fill="#089981"/>
<rect x="730.68" y="466.2" width="1.3" height="34.5" fill="#089981"/>
<rect x="729.13" y="467.1" width="4.4" height="28.8" fill="#089981"/>
<rect x="735.88" y="447.4" width="1.3" height="25.4" fill="#089981"/>
<rect x="734.33" y="455.4" width="4.4" height="12.2" fill="#089981"/>
<rect x="741.09" y="446.2" width="1.3" height="24.9" fill="#f23645"/>
<rect x="739.54" y="455.4" width="4.4" height="14.8" fill="#f23645"/>
<rect x="746.29" y="469.4" width="1.3" height="29.6" fill="#f23645"/>
<rect x="744.74" y="469.7" width="4.4" height="26.1" fill="#f23645"/>
<rect x="751.49" y="482.4" width="1.3" height="50.4" fill="#f23645"/>
<rect x="749.94" y="495.5" width="4.4" height="29.6" fill="#f23645"/>
<rect x="756.70" y="508.9" width="1.3" height="60.5" fill="#f23645"/>
<rect x="755.14" y="524.1" width="4.4" height="24.9" fill="#f23645"/>
<rect x="761.90" y="507.7" width="1.3" height="61.0" fill="#089981"/>
<rect x="760.35" y="528.1" width="4.4" height="20.9" fill="#089981"/>
<rect x="767.10" y="501.9" width="1.3" height="37.5" fill="#f23645"/>
<rect x="765.55" y="528.1" width="4.4" height="11.0" fill="#f23645"/>
<rect x="772.30" y="521.1" width="1.3" height="27.0" fill="#089981"/>
<rect x="770.75" y="534.2" width="4.4" height="4.9" fill="#089981"/>
<rect x="777.51" y="517.1" width="1.3" height="21.4" fill="#089981"/>
<rect x="775.96" y="530.3" width="4.4" height="4.2" fill="#089981"/>
<rect x="782.71" y="450.9" width="1.3" height="80.6" fill="#089981"/>
<rect x="781.16" y="457.3" width="4.4" height="73.7" fill="#089981"/>
<rect x="787.91" y="441.9" width="1.3" height="40.5" fill="#f23645"/>
<rect x="786.36" y="457.3" width="4.4" height="13.3" fill="#f23645"/>
<rect x="793.12" y="409.9" width="1.3" height="60.9" fill="#089981"/>
<rect x="791.57" y="439.2" width="4.4" height="31.4" fill="#089981"/>
<rect x="798.32" y="429.3" width="1.3" height="22.4" fill="#f23645"/>
<rect x="796.77" y="439.2" width="4.4" height="3.7" fill="#f23645"/>
<rect x="803.52" y="421.8" width="1.3" height="56.2" fill="#f23645"/>
<rect x="801.97" y="441.9" width="4.4" height="24.5" fill="#f23645"/>
</g>
<g stroke="#82848f" stroke-width="1.7" stroke-dasharray="7.35 8.005">
<line x1="13.9" y1="756.2" x2="1502.5" y2="756.2" stroke-opacity="1"/>
<line x1="13.9" y1="786.2" x2="1502.5" y2="786.2" stroke-opacity="0.55"/>
<line x1="13.9" y1="817" x2="1502.5" y2="817" stroke-opacity="1"/>
<line x1="13.9" y1="869.2" x2="1502.5" y2="869.2" stroke-opacity="1"/>
</g>
<rect x="13.5" y="740" width="1.5" height="140" fill="#2b2b2b"/>
<polyline points="335.9,810.9 341.1,812.5 346.3,820.3 351.5,810.6 356.7,810.6 361.9,801.2 367.1,808.1 372.3,809.4 377.5,802.3 382.7,783.6 387.9,775.8 393.1,770.3 398.3,770.0 403.5,774.7 408.7,782.8 413.9,790.9 419.1,779.7 424.4,785.9 429.6,783.1 434.8,774.2 440.0,769.5 445.2,781.2 450.4,791.4 455.6,790.6 460.8,782.8 466.0,790.9 471.2,792.2 476.4,791.6 481.6,797.8 486.8,796.2 492.0,796.6 497.2,790.3 502.4,796.9 507.6,803.9 512.8,804.1 518.0,802.0 523.2,804.2 528.4,807.5 533.6,799.7 538.8,791.9 544.0,787.5 549.2,788.8 554.4,777.8 559.6,781.2 564.8,780.8 570.0,783.3 575.2,786.4 580.4,787.5 585.6,795.3 590.8,789.8 596.1,792.2 601.3,784.1 606.5,780.9 611.7,779.4 616.9,790.0 622.1,785.6 627.3,787.2 632.5,788.6 637.7,794.7 642.9,792.2 648.1,789.1 653.3,791.7 658.5,795.3 663.7,793.8 668.9,783.1 674.1,774.7 679.3,780.2 684.5,769.8 689.7,785.9 694.9,792.5 700.1,795.3 705.3,796.2 710.5,797.8 715.7,797.2 720.9,804.4 726.1,803.9 731.3,796.2 736.5,792.5 741.7,796.9 746.9,801.6 752.1,805.0 757.3,808.9 762.5,803.9 767.8,805.5 773.0,804.7 778.2,803.6 783.4,783.3 788.6,786.7 793.8,778.1 799.0,779.4 804.2,786.7" fill="none" stroke="#7e57c2" stroke-width="1.8" stroke-linejoin="round" stroke-linecap="round"/>
<polyline points="403.4,797.3 412.8,794.2 419.1,791.2 429.5,787.5 439.4,782.5 445.6,780.3 450.3,779.7 459.7,780.6 465.9,782.0 470.6,783.4 481.6,785.9 490.9,787.5 501.9,788.6 512.8,793.4 523.8,795.8 533.1,798.1 539.4,798.4 548.8,797.8 555.0,796.2 564.4,794.5 573.8,793.0 580.0,791.9 595.6,789.1 606.6,786.2 612.8,785.3 622.2,785.2 633.1,786.7 642.5,788.0 653.4,788.3 664.4,788.6 673.8,787.8 680.0,787.5 689.4,786.6 701.9,787.5 714.4,788.4 725.3,790.6 737.8,790.9 745.6,793.0 756.6,797.7 767.5,800.0 777.7,801.2 787.8,799.7 798.8,796.2 804.5,795.5" fill="none" stroke="#e8cb30" stroke-width="1.9" stroke-linejoin="round" stroke-linecap="round"/>
<polyline points="361.9,874.9 367.1,877.2 372.3,876.8 377.5,872.5 382.7,863.9 387.9,855.3 393.1,844.4 398.3,842.4 403.5,842.1 408.7,842.5 413.9,843.6 419.1,837.4 424.4,847.5 429.6,841.3 434.8,840.5 440.0,838.6 445.2,838.9 450.4,841.8 455.6,846.3 460.8,843.6 466.0,851.1 471.2,849.4 476.4,847.5 481.6,857.7 486.8,858.5 492.0,866.0 497.2,871.0 502.4,875.7 507.6,880.7 512.8,879.6 518.0,876.9 523.2,883.5 528.4,881.6 533.6,881.1 538.8,880.8 544.0,881.4 549.2,885.0 554.4,878.3 559.6,878.0 564.8,881.1 570.0,878.3 575.2,878.0 580.4,882.4 585.6,877.7 590.8,882.4 596.1,878.0 601.3,877.7 606.5,875.2 611.7,866.8 616.9,868.9 622.1,867.7 627.3,863.2 632.5,857.4 637.7,865.5 642.9,871.8 648.1,877.7 653.3,876.9 658.5,886.1 663.7,883.0 668.9,870.2 674.1,860.5 679.3,862.7 684.5,854.9 689.7,862.4 694.9,869.4 700.1,869.4 705.3,873.8 710.5,874.6 715.7,876.9 720.9,878.9 726.1,878.9 731.3,876.0 736.5,874.6 741.7,876.0 746.9,880.0 752.1,883.5 757.3,883.5 762.5,881.1 767.8,886.6 773.0,893.6 778.2,901.4 783.4,893.6 788.6,902.2 793.8,896.0 799.0,891.3 804.2,898.6" fill="none" stroke="#43a047" stroke-width="1.8" stroke-linejoin="round" stroke-linecap="round"/>
<circle cx="804.45" cy="728.9" r="13.5" fill="#0f0f0f" stroke="#b44fce" stroke-width="2.4"/>
<path d="M808.8 721.6 L798.1 729.5 L803.4 730.3 L799.9 736.1 L810.4 728.3 L805.1 727.6 Z" fill="#b44fce" stroke="#b44fce" stroke-width="0.3" stroke-linejoin="round"/>
<text y="65.0" font-size="16" font-weight="normal" stroke-width="0.4"><tspan x="25.2" textLength="28.8" lengthAdjust="spacingAndGlyphs" fill="#c8c8c8" stroke="#c8c8c8">TAO</tspan> <tspan x="63.4" fill="#c8c8c8" stroke="#c8c8c8">/</tspan> <tspan x="74.0" textLength="66.2" lengthAdjust="spacingAndGlyphs" fill="#c8c8c8" stroke="#c8c8c8">TetherUS</tspan> <tspan x="145.3" fill="#c8c8c8" stroke="#c8c8c8">·</tspan> <tspan x="157.4" textLength="21.6" lengthAdjust="spacingAndGlyphs" fill="#c8c8c8" stroke="#c8c8c8">1W</tspan> <tspan x="184.3" fill="#c8c8c8" stroke="#c8c8c8">·</tspan> <tspan x="195.6" textLength="59.0" lengthAdjust="spacingAndGlyphs" fill="#c8c8c8" stroke="#c8c8c8">Binance</tspan> <tspan x="264.8" textLength="11.0" lengthAdjust="spacingAndGlyphs" fill="#c8c8c8" stroke="#c8c8c8">O</tspan> <tspan x="277.4" textLength="39.4" lengthAdjust="spacingAndGlyphs" fill="#f23645" stroke="#f23645">310.2</tspan> <tspan x="327.9" textLength="10.5" lengthAdjust="spacingAndGlyphs" fill="#c8c8c8" stroke="#c8c8c8">H</tspan> <tspan x="339.5" textLength="39.1" lengthAdjust="spacingAndGlyphs" fill="#f23645" stroke="#f23645">351.1</tspan> <tspan x="390.3" textLength="8.1" lengthAdjust="spacingAndGlyphs" fill="#c8c8c8" stroke="#c8c8c8">L</tspan> <tspan x="399.3" textLength="39.9" lengthAdjust="spacingAndGlyphs" fill="#f23645" stroke="#f23645">248.9</tspan> <tspan x="449.8" textLength="9.7" lengthAdjust="spacingAndGlyphs" fill="#c8c8c8" stroke="#c8c8c8">C</tspan> <tspan x="461.0" textLength="39.6" lengthAdjust="spacingAndGlyphs" fill="#f23645" stroke="#f23645">269.3</tspan> <tspan x="511.8" textLength="40.4" lengthAdjust="spacingAndGlyphs" fill="#f23645" stroke="#f23645">−40.9</tspan> <tspan x="558.6" textLength="71.6" lengthAdjust="spacingAndGlyphs" fill="#f23645" stroke="#f23645">(−13.19%)</tspan></text>
<text y="88.6" font-size="16" font-weight="normal" stroke-width="0.4"><tspan x="25.2" textLength="22.2" lengthAdjust="spacingAndGlyphs" fill="#c8c8c8" stroke="#c8c8c8">Vol</tspan> <tspan x="52.9" fill="#c8c8c8" stroke="#c8c8c8">·</tspan> <tspan x="65.6" textLength="27.4" lengthAdjust="spacingAndGlyphs" fill="#c8c8c8" stroke="#c8c8c8">TAO</tspan> <tspan x="103.8" textLength="31.7" lengthAdjust="spacingAndGlyphs" fill="#ef5350" stroke="#ef5350">2.55</tspan> <tspan x="137.5" textLength="12.7" lengthAdjust="spacingAndGlyphs" fill="#ef5350" stroke="#ef5350">M</tspan></text>
<text y="775.3" font-size="16" font-weight="normal" stroke-width="0.4"><tspan x="25.0" textLength="106.2" lengthAdjust="spacingAndGlyphs" fill="#c8c8c8" stroke="#c8c8c8">RSI (14, close)</tspan> <tspan x="142.0" textLength="41.4" lengthAdjust="spacingAndGlyphs" fill="#7e57c2" stroke="#7e57c2">49.64</tspan> <tspan x="193.2" textLength="41.4" lengthAdjust="spacingAndGlyphs" fill="#f0d02f" stroke="#f0d02f">43.89</tspan></text>
<text y="856.4" font-size="16" font-weight="normal" stroke-width="0.4"><tspan x="25.0" textLength="65.3" lengthAdjust="spacingAndGlyphs" fill="#c8c8c8" stroke="#c8c8c8">CMF (20)</tspan> <tspan x="101.0" textLength="41.0" lengthAdjust="spacingAndGlyphs" fill="#43a047" stroke="#43a047">−0.25</tspan></text>
<text x="1515.0" y="103.2" fill="#c8c8c8" stroke="#c8c8c8" stroke-width="0.4" font-size="16" font-weight="normal" textLength="56.6" lengthAdjust="spacingAndGlyphs">2,500.0</text>
<text x="1515.0" y="148.3" fill="#c8c8c8" stroke="#c8c8c8" stroke-width="0.4" font-size="16" font-weight="normal" textLength="56.6" lengthAdjust="spacingAndGlyphs">1,900.0</text>
<text x="1515.0" y="211.1" fill="#c8c8c8" stroke="#c8c8c8" stroke-width="0.4" font-size="16" font-weight="normal" textLength="56.6" lengthAdjust="spacingAndGlyphs">1,300.0</text>
<text x="1515.0" y="254.2" fill="#c8c8c8" stroke="#c8c8c8" stroke-width="0.4" font-size="16" font-weight="normal" textLength="56.6" lengthAdjust="spacingAndGlyphs">1,000.0</text>
<text x="1515.0" y="314.0" fill="#c8c8c8" stroke="#c8c8c8" stroke-width="0.4" font-size="16" font-weight="normal" textLength="41.0" lengthAdjust="spacingAndGlyphs">700.0</text>
<text x="1515.0" y="357.0" fill="#c8c8c8" stroke="#c8c8c8" stroke-width="0.4" font-size="16" font-weight="normal" textLength="41.0" lengthAdjust="spacingAndGlyphs">540.0</text>
<text x="1515.0" y="415.1" fill="#c8c8c8" stroke="#c8c8c8" stroke-width="0.4" font-size="16" font-weight="normal" textLength="41.0" lengthAdjust="spacingAndGlyphs">380.0</text>
<text x="1515.0" y="465.0" fill="#c8c8c8" stroke="#c8c8c8" stroke-width="0.4" font-size="16" font-weight="normal" textLength="41.0" lengthAdjust="spacingAndGlyphs">280.0</text>
<text x="1515.0" y="521.0" fill="#c8c8c8" stroke="#c8c8c8" stroke-width="0.4" font-size="16" font-weight="normal" textLength="41.0" lengthAdjust="spacingAndGlyphs">200.0</text>
<text x="1515.0" y="568.2" fill="#c8c8c8" stroke="#c8c8c8" stroke-width="0.4" font-size="16" font-weight="normal" textLength="41.0" lengthAdjust="spacingAndGlyphs">150.0</text>
<text x="1515.0" y="619.0" fill="#c8c8c8" stroke="#c8c8c8" stroke-width="0.4" font-size="16" font-weight="normal" textLength="41.0" lengthAdjust="spacingAndGlyphs">110.0</text>
<text x="1515.0" y="667.3" fill="#c8c8c8" stroke="#c8c8c8" stroke-width="0.4" font-size="16" font-weight="normal" textLength="33.0" lengthAdjust="spacingAndGlyphs">82.0</text>
<text x="1515.0" y="714.6" fill="#c8c8c8" stroke="#c8c8c8" stroke-width="0.4" font-size="16" font-weight="normal" textLength="33.0" lengthAdjust="spacingAndGlyphs">62.0</text>
<text x="1515.0" y="807.9" fill="#c8c8c8" stroke="#c8c8c8" stroke-width="0.4" font-size="16" font-weight="normal" textLength="41.2" lengthAdjust="spacingAndGlyphs">40.00</text>
<text x="1515.0" y="875.0" fill="#c8c8c8" stroke="#c8c8c8" stroke-width="0.4" font-size="16" font-weight="normal" textLength="32.0" lengthAdjust="spacingAndGlyphs">0.00</text>
<rect x="1503.6" y="454.1" width="68.4" height="42.9" rx="2" fill="#9575cd"/>
<text x="1515.0" y="472.2" fill="#ffffff" stroke="#ffffff" stroke-width="0.4" font-size="16" font-weight="normal" textLength="40.5" lengthAdjust="spacingAndGlyphs">269.3</text>
<text x="1515.0" y="491.6" fill="#e6dcf6" stroke="#e6dcf6" stroke-width="0.4" font-size="16" font-weight="normal" textLength="49.3" lengthAdjust="spacingAndGlyphs">2d 19h</text>
<rect x="1507.5" y="43.5" width="73" height="36" rx="5.5" fill="#0f0f0f" stroke="#383838" stroke-width="1.3"/>
<text x="1520.0" y="67.3" fill="#d8d8d8" stroke="#d8d8d8" stroke-width="0.4" font-size="16" font-weight="normal" textLength="39.7" lengthAdjust="spacingAndGlyphs" style="stroke-width:0.7">USDT</text>
<text x="314.7" y="936.3" fill="#c8c8c8" stroke="#c8c8c8" stroke-width="0.4" font-size="16" font-weight="normal" textLength="21.5" lengthAdjust="spacingAndGlyphs">Jul</text>
<text x="446.8" y="936.3" fill="#c8c8c8" stroke="#c8c8c8" stroke-width="0.4" font-size="16" font-weight="bold" textLength="38.4" lengthAdjust="spacingAndGlyphs">2025</text>
<text x="590.5" y="936.3" fill="#c8c8c8" stroke="#c8c8c8" stroke-width="0.4" font-size="16" font-weight="normal" textLength="21.5" lengthAdjust="spacingAndGlyphs">Jul</text>
<text x="717.3" y="936.3" fill="#c8c8c8" stroke="#c8c8c8" stroke-width="0.4" font-size="16" font-weight="bold" textLength="38.4" lengthAdjust="spacingAndGlyphs">2026</text>
<text x="861.1" y="936.3" fill="#c8c8c8" stroke="#c8c8c8" stroke-width="0.4" font-size="16" font-weight="normal" textLength="21.5" lengthAdjust="spacingAndGlyphs">Jul</text>
<text x="987.9" y="936.3" fill="#c8c8c8" stroke="#c8c8c8" stroke-width="0.4" font-size="16" font-weight="bold" textLength="38.4" lengthAdjust="spacingAndGlyphs">2027</text>
<text x="1131.6" y="936.3" fill="#c8c8c8" stroke="#c8c8c8" stroke-width="0.4" font-size="16" font-weight="normal" textLength="21.5" lengthAdjust="spacingAndGlyphs">Jul</text>
<text x="1258.4" y="936.3" fill="#c8c8c8" stroke="#c8c8c8" stroke-width="0.4" font-size="16" font-weight="bold" textLength="38.4" lengthAdjust="spacingAndGlyphs">2028</text>
<text x="1402.2" y="936.3" fill="#c8c8c8" stroke="#c8c8c8" stroke-width="0.4" font-size="16" font-weight="normal" textLength="21.5" lengthAdjust="spacingAndGlyphs">Jul</text>
<g fill="#dcdcdc">
<path d="M16.5 980.25 H33.75 V1001 H25 V988.75 H16.5 Z"/>
<circle cx="40.5" cy="984.3" r="4.25"/>
<path d="M48.5 980.25 H58.25 L50.5 1001 H40.75 Z"/>
</g>
<text y="1001.1" font-size="29.3" font-weight="bold" stroke-width="0"><tspan x="67.3" textLength="100.1" lengthAdjust="spacingAndGlyphs" fill="#dcdcdc" stroke="#dcdcdc">Trading</tspan><tspan x="167.2" textLength="70.4" lengthAdjust="spacingAndGlyphs" fill="#dcdcdc" stroke="#dcdcdc">View</tspan></text>
</svg>
</body></html>
